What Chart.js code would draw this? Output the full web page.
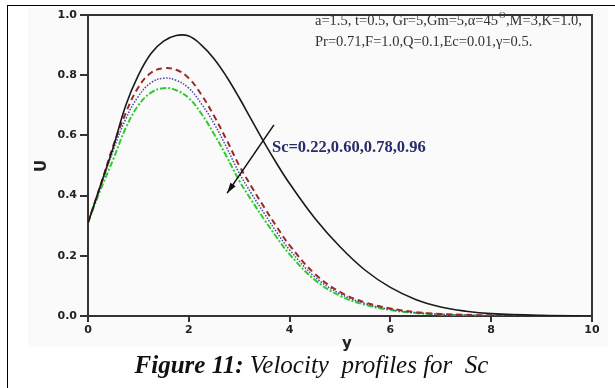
<!DOCTYPE html>
<html>
<head>
<meta charset="utf-8">
<script src="https://cdn.jsdelivr.net/npm/chart.js@4.4.0/dist/chart.umd.min.js"></script>
<style>
  html, body { margin: 0; padding: 0; background: #fff; }
  #wrap { position: relative; width: 615px; height: 388px; overflow: hidden; }
  #frame { position: absolute; left: 7px; top: 5px; width: 620px; height: 400px;
           border-left: 1.5px solid #000; border-top: 1.5px solid #000; }
  #myChart { position: absolute; left: 0; top: 0; }
  #caption { position: absolute; left: 4px; width: 615px; top: 351px; text-align: center;
             font-family: "Liberation Serif", serif; font-style: italic; font-size: 25px; color: #111;
             white-space: pre; }
  #caption b { font-weight: bold; }
</style>
</head>
<body>
<div id="wrap">
  <div id="frame"></div>
  <canvas id="myChart" width="615" height="388"></canvas>
  <div id="caption"><b>Figure 11:</b> Velocity  profiles for  Sc</div>
</div>
<script>
// y positions and U values, one array per Sc
var yPos  = [0, 0.25, 0.5, 0.75, 1, 1.25, 1.5, 1.75, 2, 2.25, 2.5, 2.75, 3, 3.25, 3.5, 3.75, 4, 4.5, 5, 5.5, 6, 6.5, 7, 7.5, 8, 9, 10];
var sc022 = [0.31, 0.435, 0.56, 0.70, 0.80, 0.872, 0.913, 0.932, 0.93, 0.90, 0.855, 0.795, 0.725, 0.65, 0.575, 0.505, 0.44, 0.325, 0.23, 0.152, 0.095, 0.055, 0.03, 0.016, 0.008, 0.002, 0];
var sc060 = [0.31, 0.435, 0.565, 0.675, 0.76, 0.808, 0.823, 0.818, 0.79, 0.735, 0.665, 0.585, 0.50, 0.428, 0.36, 0.295, 0.235, 0.14, 0.08, 0.045, 0.025, 0.013, 0.007, 0.004, 0.002, 0, 0];
var sc078 = [0.31, 0.43, 0.55, 0.655, 0.73, 0.775, 0.79, 0.783, 0.757, 0.705, 0.64, 0.56, 0.475, 0.405, 0.34, 0.277, 0.22, 0.13, 0.074, 0.041, 0.022, 0.011, 0.006, 0.003, 0.001, 0, 0];
var sc096 = [0.31, 0.42, 0.52, 0.625, 0.70, 0.742, 0.757, 0.75, 0.724, 0.672, 0.605, 0.53, 0.45, 0.383, 0.32, 0.26, 0.205, 0.12, 0.067, 0.037, 0.02, 0.01, 0.005, 0.002, 0.001, 0, 0];
var yTicks = [0, 0.2, 0.4, 0.6, 0.8, 1.0];
var xTicks = [0, 2, 4, 6, 8, 10];
var paramLine1 = "a=1.5, t=0.5, Gr=5,Gm=5,\u03b1=45";
var paramLine1b = ",M=3,K=1.0,";
var paramLine2 = "Pr=0.71,F=1.0,Q=0.1,Ec=0.01,\u03b3=0.5.";
var scLabel = "Sc=0.22,0.60,0.78,0.96";

function pts(vals) {
    return yPos.map(function (x, i) { return { x: x, y: vals[i] }; });
}

var decor = {
    id: 'decor',
    beforeDraw: function (chart) {
        var c = chart.ctx;
        c.save();
        c.fillStyle = '#fafafa';
        c.fillRect(28, 8, 580, 338);
        c.restore();
    },
    afterDraw: function (chart) {
        var c = chart.ctx, a = chart.chartArea;
        var xs = chart.scales.x, ys = chart.scales.y;
        c.save();
        // top and right frame
        c.strokeStyle = '#333';
        c.lineWidth = 2;
        c.beginPath();
        c.moveTo(a.left, a.top);
        c.lineTo(a.right, a.top);
        c.lineTo(a.right, a.bottom);
        c.stroke();

        // axis titles
        c.fillStyle = '#222';
        c.font = 'bold 15px "DejaVu Sans", sans-serif';
        c.textAlign = 'center';
        c.textBaseline = 'middle';
        c.fillText('y', 347, 344);
        c.translate(42, 166);
        c.rotate(-Math.PI / 2);
        c.fillText('U', 0, 0);
        c.setTransform(1, 0, 0, 1, 0, 0);

        // parameters text
        c.fillStyle = '#333';
        c.textAlign = 'left';
        c.textBaseline = 'alphabetic';
        c.font = '14.5px "Liberation Serif", serif';
        var x0 = 315;
        c.fillText(paramLine1, x0, 25);
        var w = c.measureText(paramLine1).width;
        c.font = '9px "Liberation Serif", serif';
        c.fillText('O', x0 + w + 1, 18);
        c.font = '14.5px "Liberation Serif", serif';
        c.fillText(paramLine1b, x0 + w + 8, 25);
        c.fillText(paramLine2, x0, 46);

        // Sc label and arrow
        c.fillStyle = '#2a2a6a';
        c.font = 'bold 16.5px "Liberation Serif", serif';
        c.textBaseline = 'middle';
        c.fillText(scLabel, xs.getPixelForValue(3.65), ys.getPixelForValue(0.558));
        var x1 = xs.getPixelForValue(3.69), y1 = ys.getPixelForValue(0.635);
        var x2 = xs.getPixelForValue(2.76), y2 = ys.getPixelForValue(0.408);
        c.strokeStyle = '#111';
        c.lineWidth = 1.5;
        c.beginPath();
        c.moveTo(x1, y1);
        c.lineTo(x2, y2);
        c.stroke();
        var ang = Math.atan2(y2 - y1, x2 - x1);
        c.fillStyle = '#111';
        c.beginPath();
        c.moveTo(x2, y2);
        c.lineTo(x2 - 11 * Math.cos(ang - 0.3), y2 - 11 * Math.sin(ang - 0.3));
        c.lineTo(x2 - 11 * Math.cos(ang + 0.3), y2 - 11 * Math.sin(ang + 0.3));
        c.closePath();
        c.fill();
        c.restore();
    }
};

var ctx = document.getElementById('myChart').getContext('2d');
var chart = new Chart(ctx, {
    type: 'line',
    data: {
        datasets: [{
            label: 'Sc=0.22',
            data: pts(sc022),
            borderColor: '#1a1a1a',
            borderWidth: 1.6
        }, {
            label: 'Sc=0.60',
            data: pts(sc060),
            borderColor: '#9a2a2a',
            borderWidth: 2,
            borderDash: [6, 4]
        }, {
            label: 'Sc=0.78',
            data: pts(sc078),
            borderColor: '#4a4a9a',
            borderWidth: 1.5,
            borderDash: [1.5, 1.5]
        }, {
            label: 'Sc=0.96',
            data: pts(sc096),
            borderColor: '#2ecc2e',
            borderWidth: 2,
            borderDash: [6, 2, 2, 2]
        }]
    },
    options: {
        responsive: false,
        animation: false,
        layout: { padding: { left: 0, right: 23, top: 15, bottom: 42 } },
        elements: {
            point: { radius: 0 },
            line: { tension: 0.4, fill: false }
        },
        plugins: {
            legend: { display: false },
            tooltip: { enabled: false }
        },
        scales: {
            x: {
                type: 'linear',
                min: 0,
                max: 10,
                afterFit: function (s) { s.height = 30; },
                afterBuildTicks: function (s) { s.ticks = xTicks.map(function (v) { return { value: v }; }); },
                border: { color: '#333', width: 2 },
                grid: { drawOnChartArea: false, tickLength: 6, tickColor: '#333', lineWidth: 2 },
                ticks: {
                    padding: 2,
                    color: '#222',
                    font: { family: '"DejaVu Sans", sans-serif', size: 11, weight: 'bold' },
                    maxRotation: 0
                }
            },
            y: {
                min: 0,
                max: 1.0,
                afterFit: function (s) { s.width = 88; },
                afterBuildTicks: function (s) { s.ticks = yTicks.map(function (v) { return { value: v }; }); },
                border: { color: '#333', width: 2 },
                grid: { drawOnChartArea: false, tickLength: 8, tickColor: '#333', lineWidth: 2 },
                ticks: {
                    padding: 3,
                    color: '#222',
                    font: { family: '"DejaVu Sans", sans-serif', size: 11, weight: 'bold' },
                    callback: function (v) { return v.toFixed(1); }
                }
            }
        }
    },
    plugins: [decor]
});
</script>
</body>
</html>
